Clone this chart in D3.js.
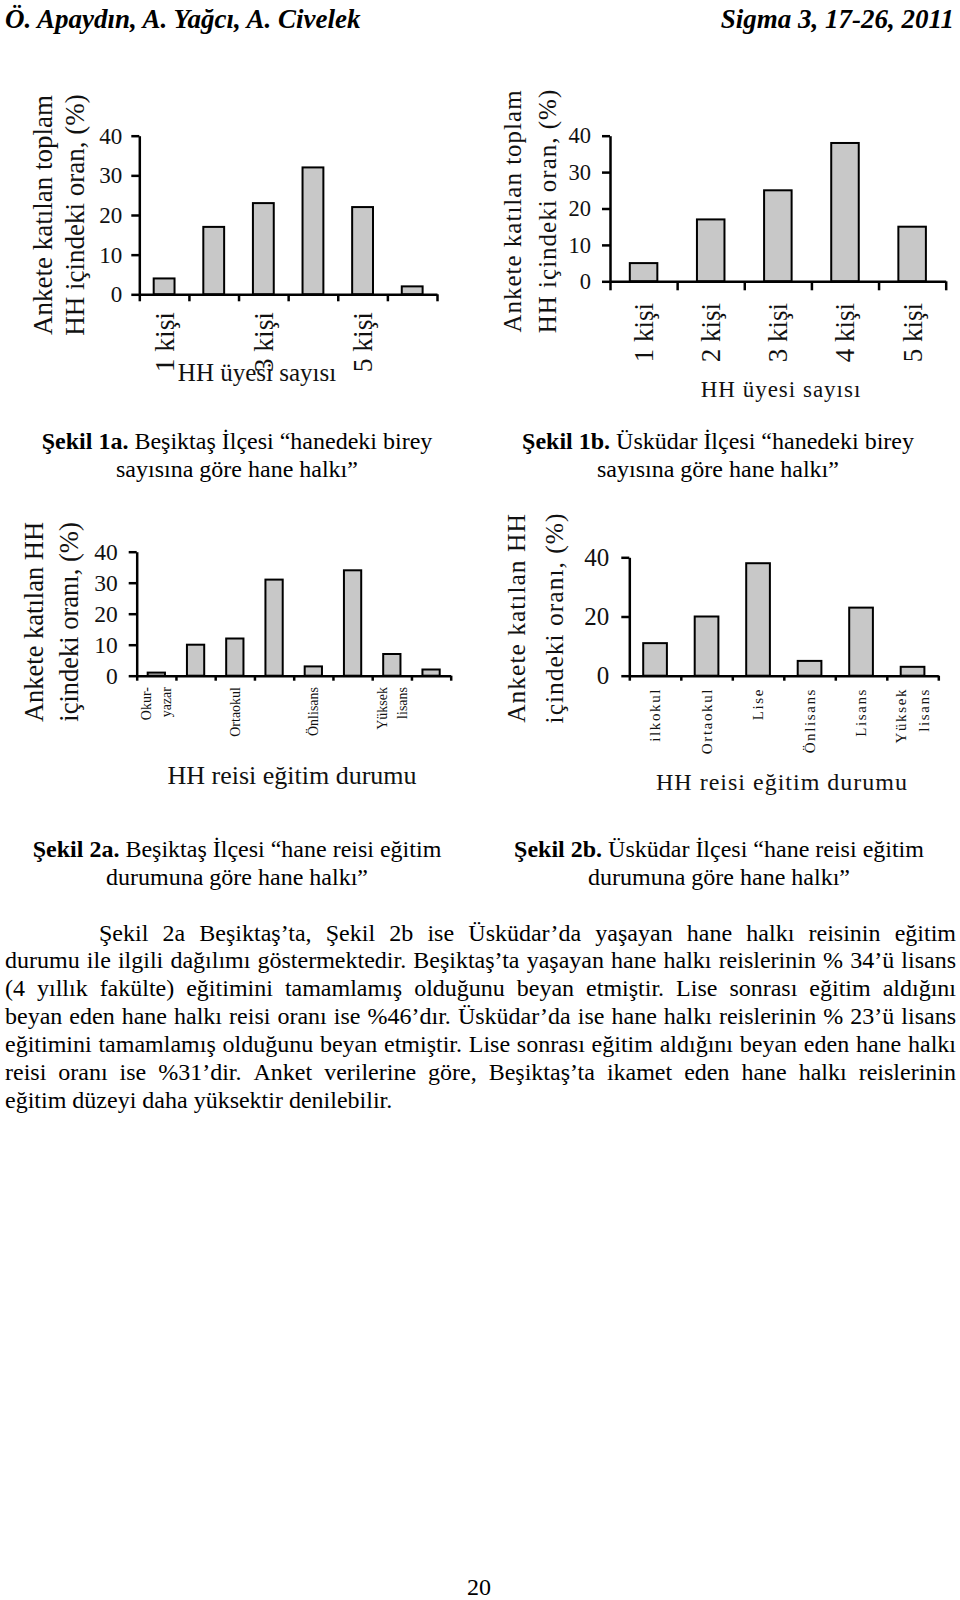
<!DOCTYPE html>
<html>
<head>
<meta charset="utf-8">
<script src="https://cdn.jsdelivr.net/npm/d3@7"></script>
<style>
  body { margin: 0; background: #fff; }
  svg { display: block; }
</style>
</head>
<body>
<svg id="page" width="960" height="1600"></svg>
<script>
// ---- data ----
const sizeCats1a = ["1 kişi", "2 kişi", "3 kişi", "4 kişi", "5 kişi", "6+ kişi"];
const besiktasSize = [4, 17, 23, 32, 22, 2];

const sizeCats1b = ["1 kişi", "2 kişi", "3 kişi", "4 kişi", "5 kişi"];
const uskudarSize = [5, 17, 25, 38, 15];

const eduCats2a = ["Okur-\nyazar", "İlkokul", "Ortaokul", "Lise", "Önlisans", "Lisans", "Yüksek\nlisans", "Doktora"];
const besiktasEdu = [1, 10, 12, 31, 3, 34, 7, 2];

const eduCats2b = ["ilkokul", "Ortaokul", "Lise", "Önlisans", "Lisans", "Yüksek\nlisans"];
const uskudarEdu = [11, 20, 38, 5, 23, 3];

const yTicksTen = [0, 10, 20, 30, 40];
const yTicksTwenty = [0, 20, 40];

const headerLeft = "Ö. Apaydın, A. Yağcı, A. Civelek";
const headerRight = "Sigma 3, 17-26, 2011";

const bodyLines = [
  "Şekil 2a Beşiktaş’ta,  Şekil 2b ise Üsküdar’da yaşayan hane halkı reisinin eğitim",
  "durumu ile ilgili dağılımı göstermektedir. Beşiktaş’ta yaşayan hane halkı reislerinin % 34’ü lisans",
  "(4 yıllık fakülte) eğitimini tamamlamış olduğunu beyan etmiştir. Lise sonrası eğitim aldığını",
  "beyan eden hane halkı reisi oranı ise %46’dır. Üsküdar’da ise hane halkı reislerinin % 23’ü lisans",
  "eğitimini tamamlamış olduğunu beyan etmiştir. Lise sonrası eğitim aldığını beyan eden hane halkı",
  "reisi oranı ise %31’dir. Anket verilerine göre, Beşiktaş’ta ikamet eden hane halkı reislerinin",
  "eğitim düzeyi daha yüksektir denilebilir."
];

const SERIF = "'Liberation Serif', 'Times New Roman', serif";
const svg = d3.select("#page");

// ---- header ----
svg.append("text").attr("x", 5).attr("y", 28)
  .attr("font-family", SERIF).attr("font-size", 27).attr("font-weight", "bold").attr("font-style", "italic")
  .text(headerLeft);
svg.append("text").attr("x", 954).attr("y", 28).attr("text-anchor", "end")
  .attr("font-family", SERIF).attr("font-size", 27).attr("font-weight", "bold").attr("font-style", "italic")
  .text(headerRight);

// ---- charts ----
function barChart(c) {
  const n = c.cats.length;
  const g = svg.append("g");

  const x = d3.scaleBand().domain(c.cats).range([c.x0, c.x1])
    .paddingInner(c.pad).paddingOuter(c.pad / 2);
  const xb = d3.scaleLinear().domain([0, n]).range([c.x0, c.x1]);
  const y = d3.scaleLinear().domain([0, 40]).range([c.y0, c.yTop]);

  g.selectAll("rect")
    .data(c.values)
    .join("rect")
    .attr("x", (d, i) => x(c.cats[i]))
    .attr("y", d => y(d))
    .attr("width", x.bandwidth())
    .attr("height", d => y(0) - y(d))
    .attr("fill", "#c8c8c8")
    .attr("stroke", "#000")
    .attr("stroke-width", 2);

  const ya = g.append("g")
    .attr("transform", "translate(" + c.x0 + ",0)")
    .call(d3.axisLeft(y).tickValues(c.yTicks).tickSize(8).tickSizeOuter(0).tickPadding(c.tickPad));
  ya.selectAll("text").attr("font-family", SERIF).attr("font-size", c.tickFont).attr("fill", "#111");

  g.append("g")
    .attr("transform", "translate(0," + c.y0 + ")")
    .call(d3.axisBottom(xb).tickValues(d3.range(n + 1)).tickSize(c.tickX).tickSizeOuter(0).tickFormat(""));

  g.selectAll(".domain, .tick line").attr("stroke", "#000").attr("stroke-width", 2.5);

  // category labels, rotated
  c.cats.forEach((cat, i) => {
    if (i % c.every) return;
    const lines = cat.split("\n");
    const cx = x(cat) + x.bandwidth() / 2;
    const t = g.append("text")
      .attr("transform", "translate(" + cx + "," + c.labelTop + ") rotate(-90)")
      .attr("text-anchor", "end")
      .attr("font-family", SERIF)
      .attr("font-size", c.labelSize)
      .attr("letter-spacing", c.labelSpacing)
      .attr("fill", "#111");
    lines.forEach((ln, k) => {
      t.append("tspan").attr("x", 0)
        .attr("dy", k === 0 ? c.labelSize * 0.35 - (lines.length - 1) * c.labelLs / 2 : c.labelLs)
        .text(ln);
    });
  });

  // y title, two lines
  c.yTitle.forEach((ln, k) => {
    g.append("text")
      .attr("transform", "translate(" + c.yTitleCols[k] + "," + c.yTitleCy + ") rotate(-90)")
      .attr("dy", "0.3em")
      .attr("text-anchor", "middle")
      .attr("font-family", SERIF)
      .attr("font-size", c.yTitleSize)
      .attr("letter-spacing", c.titleSpacing)
      .attr("fill", "#111")
      .text(ln);
  });

  g.append("text")
    .attr("x", c.xTitleX).attr("y", c.xTitleY)
    .attr("text-anchor", "middle")
    .attr("font-family", SERIF)
    .attr("font-size", c.xTitleSize)
    .attr("letter-spacing", c.titleSpacing)
    .attr("fill", "#111")
    .text(c.xTitle);
}

barChart({
  cats: sizeCats1a, values: besiktasSize, yTicks: yTicksTen, every: 2,
  x0: 139.3, x1: 437, y0: 294.3, yTop: 135.7, pad: 0.58, tickX: 7, tickFont: 23, tickPad: 9,
  labelTop: 312, labelSize: 27.5, labelLs: 0, labelSpacing: 0,
  yTitle: ["Ankete katılan toplam", "HH içindeki oran, (%)"], yTitleCols: [44, 76], yTitleCy: 215, yTitleSize: 27,
  xTitle: "HH üyesi sayısı", xTitleX: 257, xTitleY: 381, xTitleSize: 25, titleSpacing: 0
});

barChart({
  cats: sizeCats1b, values: uskudarSize, yTicks: yTicksTen, every: 1,
  x0: 610, x1: 945.7, y0: 281.3, yTop: 135.7, pad: 0.59, tickX: 9, tickFont: 22.5, tickPad: 11,
  labelTop: 303, labelSize: 27, labelLs: 0, labelSpacing: 0,
  yTitle: ["Ankete katılan toplam", "HH içindeki oran, (%)"], yTitleCols: [513, 548], yTitleCy: 211, yTitleSize: 25,
  xTitle: "HH üyesi sayısı", xTitleX: 781, xTitleY: 397, xTitleSize: 23, titleSpacing: 1
});

barChart({
  cats: eduCats2a, values: besiktasEdu, yTicks: yTicksTen, every: 2,
  x0: 136.7, x1: 450.7, y0: 675.7, yTop: 551.7, pad: 0.56, tickX: 5, tickFont: 23.5, tickPad: 11,
  labelTop: 687, labelSize: 14, labelLs: 20, labelSpacing: 0,
  yTitle: ["Ankete katılan HH", "içindeki oranı, (%)"], yTitleCols: [35, 70], yTitleCy: 622, yTitleSize: 26.5,
  xTitle: "HH reisi eğitim durumu", xTitleX: 292, xTitleY: 784, xTitleSize: 26, titleSpacing: 0
});

barChart({
  cats: eduCats2b, values: uskudarEdu, yTicks: yTicksTwenty, every: 1,
  x0: 629.3, x1: 938.3, y0: 675.7, yTop: 557.3, pad: 0.54, tickX: 5, tickFont: 25, tickPad: 12,
  labelTop: 688, labelSize: 15, labelLs: 23, labelSpacing: 1.6,
  yTitle: ["Ankete katılan HH", "içindeki oranı, (%)"], yTitleCols: [517, 555], yTitleCy: 618, yTitleSize: 25.5,
  xTitle: "HH reisi eğitim durumu", xTitleX: 782, xTitleY: 790, xTitleSize: 24, titleSpacing: 1
});

// ---- captions ----
function caption(cx, y, bold, rest, line2) {
  const t = svg.append("text").attr("x", cx).attr("y", y).attr("text-anchor", "middle")
    .attr("font-family", SERIF).attr("font-size", 24).attr("fill", "#000");
  t.append("tspan").attr("font-weight", "bold").text(bold);
  t.append("tspan").text(rest);
  svg.append("text").attr("x", cx).attr("y", y + 27.5).attr("text-anchor", "middle")
    .attr("font-family", SERIF).attr("font-size", 24).attr("fill", "#000").text(line2);
}
caption(237, 449, "Şekil 1a.", " Beşiktaş İlçesi “hanedeki birey", "sayısına göre hane halkı”");
caption(718, 449, "Şekil 1b.", " Üsküdar İlçesi “hanedeki birey", "sayısına göre hane halkı”");
caption(237, 857, "Şekil 2a.", " Beşiktaş İlçesi “hane reisi eğitim", "durumuna göre hane halkı”");
caption(719, 857, "Şekil 2b.", " Üsküdar İlçesi “hane reisi eğitim", "durumuna göre hane halkı”");

// ---- justified body paragraph ----
const bodyLeft = 5, bodyRight = 956, bodyIndent = 99, bodyTop = 940.5, bodyLead = 27.9;
bodyLines.forEach((line, i) => {
  const last = i === bodyLines.length - 1;
  const left = i === 0 ? bodyIndent : bodyLeft;
  const words = line.split(/\s+/);
  const t = svg.append("text").attr("y", bodyTop + i * bodyLead)
    .attr("font-family", SERIF).attr("font-size", 24).attr("fill", "#000");
  const spans = t.selectAll("tspan").data(words).join("tspan").text(d => d);
  const widths = spans.nodes().map(nd => nd.getComputedTextLength());
  const gap = last ? 6 : (bodyRight - left - d3.sum(widths)) / (words.length - 1);
  let pos = left;
  spans.attr("x", (d, j) => { const v = pos; pos += widths[j] + gap; return v; })
    .text((d, j) => j < words.length - 1 ? d + " " : d);
});

// ---- page number ----
svg.append("text").attr("x", 479).attr("y", 1595).attr("text-anchor", "middle")
  .attr("font-family", SERIF).attr("font-size", 24).text("20");
</script>
</body>
</html>
